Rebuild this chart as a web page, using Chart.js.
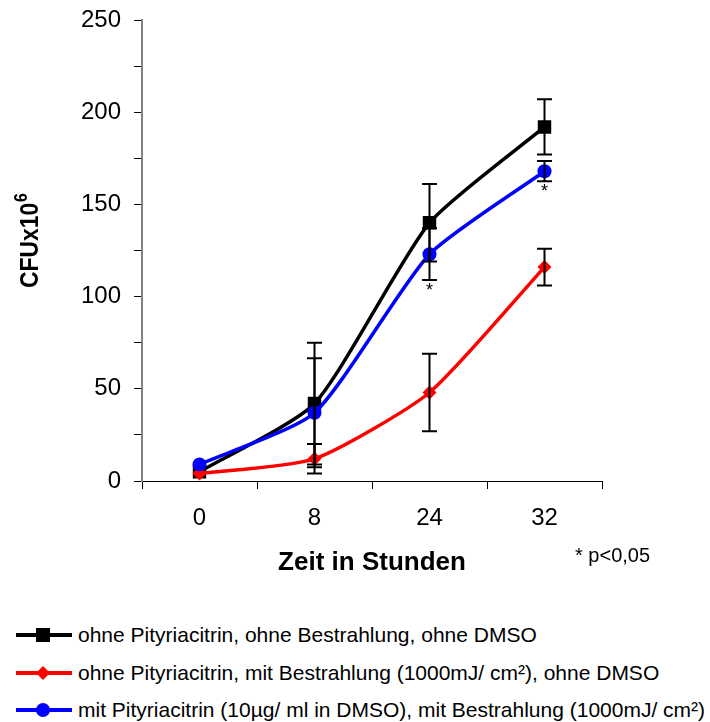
<!DOCTYPE html>
<html>
<head>
<meta charset="utf-8">
<script src="https://cdn.jsdelivr.net/npm/chart.js@4"></script>
<style>
  body { margin: 0; background: #fff; font-family: "Liberation Sans", Arial, sans-serif; }
  #wrap { position: relative; width: 710px; height: 722px; overflow: hidden; }
  #box { position: absolute; left: 0; top: 0; width: 710px; height: 600px; }
  .item { position: absolute; left: 0; display: flex; align-items: center; height: 30px;
          font-size: 21px; color: #000; white-space: nowrap; }
  .item canvas { margin-left: 16px; margin-right: 6px; }
</style>
</head>
<body>
<div id="wrap">
  <div id="box"><canvas id="chart"></canvas></div>
</div>
<script>
const hours = ['0', '8', '24', '32'];

const controlLabel = 'ohne Pityriacitrin, ohne Bestrahlung, ohne DMSO';
const controlVals = [5, 42, 140, 192];
const controlErr = [0, 33, 21, 15];

const irradLabel = 'ohne Pityriacitrin, mit Bestrahlung (1000mJ/ cm²), ohne DMSO';
const irradVals = [4, 12, 48, 116];
const irradErr = [0, 8, 21, 10];

const pityLabel = 'mit Pityriacitrin (10µg/ ml in DMSO), mit Bestrahlung (1000mJ/ cm²)';
const pityVals = [9, 37, 123, 168];
const pityErr = [0, 29.5, 14, 5.5];

// which points get a significance star (index into hours)
const starIdx = [2, 3];

const FONT = '"Liberation Sans", Arial';

const extras = {
  id: 'extras',
  afterDatasetsDraw(chart) {
    const ctx = chart.ctx;
    const y = chart.scales.y;
    ctx.save();
    ctx.strokeStyle = '#000';
    ctx.lineWidth = 2;
    chart.data.datasets.forEach((ds, di) => {
      const meta = chart.getDatasetMeta(di);
      meta.data.forEach((pt, i) => {
        const e = ds.err[i];
        if (!e) return;
        const top = y.getPixelForValue(ds.data[i] + e);
        const bot = y.getPixelForValue(ds.data[i] - e);
        ctx.beginPath();
        ctx.moveTo(pt.x, top); ctx.lineTo(pt.x, bot);
        ctx.moveTo(pt.x - 7.5, top); ctx.lineTo(pt.x + 7.5, top);
        ctx.moveTo(pt.x - 7.5, bot); ctx.lineTo(pt.x + 7.5, bot);
        ctx.stroke();
      });
    });
    // stars under the blue bars
    ctx.fillStyle = '#000';
    ctx.font = '18px ' + FONT;
    ctx.textAlign = 'center';
    ctx.textBaseline = 'middle';
    const meta = chart.getDatasetMeta(2);
    starIdx.forEach(i => {
      const bot = y.getPixelForValue(pityVals[i] - pityErr[i]);
      ctx.fillText('*', meta.data[i].x, bot + 11);
    });
    ctx.font = '20px ' + FONT;
    ctx.textAlign = 'left';
    ctx.fillText('* p<0,05', 575, 556);

    // y title with real superscript, rotated
    ctx.translate(38, 288);
    ctx.rotate(-Math.PI / 2);
    ctx.scale(0.88, 1);
    ctx.textBaseline = 'alphabetic';
    ctx.font = 'bold 26px ' + FONT;
    ctx.fillText('CFUx10', 0, 0);
    const w = ctx.measureText('CFUx10').width;
    ctx.font = 'bold 18px ' + FONT;
    ctx.fillText('6', w + 1, -11);
    ctx.restore();
  }
};

const datasets = [
  { label: controlLabel, data: controlVals, err: controlErr, borderColor: '#000', backgroundColor: '#000',
    pointStyle: 'rect', pointRadius: 9.5, order: 2 },
  { label: irradLabel, data: irradVals, err: irradErr, borderColor: '#ff0000', backgroundColor: '#ff0000',
    pointStyle: 'rectRot', pointRadius: 7, order: 1 },
  { label: pityLabel, data: pityVals, err: pityErr, borderColor: '#0000ff', backgroundColor: '#0000ff',
    pointStyle: 'circle', pointRadius: 7, order: 0 }
];
datasets.forEach(d => { d.borderWidth = 3.5; d.tension = 0.2; d.pointBorderWidth = 0; });

new Chart(document.getElementById('chart'), {
  type: 'line',
  data: { labels: hours, datasets },
  options: {
    responsive: true,
    maintainAspectRatio: false,
    animation: false,
    layout: { padding: { top: 20, right: 108, left: 0, bottom: 0 } },
    plugins: { legend: { display: false }, tooltip: { enabled: false } },
    scales: {
      x: {
        offset: true,
        grid: { offset: true, drawOnChartArea: false, tickLength: 8, color: '#000' },
        border: { color: '#000', width: 1 },
        ticks: { color: '#000', padding: 15, font: { size: 24, family: FONT } },
        title: { display: true, text: 'Zeit in Stunden', color: '#000', padding: { bottom: 22 },
          font: { size: 26, weight: 'bold', family: FONT } },
        afterFit(s) { s.height = 119; }
      },
      y: {
        min: 0, max: 250,
        ticks: { stepSize: 25, color: '#000', padding: 13,
          font: { size: 24, family: FONT },
          callback: v => (v % 50 === 0 ? v : '') },
        grid: { drawOnChartArea: false, tickLength: 8, color: '#000' },
        border: { color: '#808080', width: 2 },
        afterFit(s) { s.width = 142; s.paddingTop = 0; s.paddingBottom = 0; }
      }
    }
  },
  plugins: [extras]
});

// legend below the chart, line + marker like the original
const wrap = document.getElementById('wrap');
datasets.forEach((d, k) => {
  const row = document.createElement('div');
  row.className = 'item';
  row.style.top = (635 + k * 37.5 - 15) + 'px';
  const c = document.createElement('canvas');
  c.width = 56; c.height = 20;
  const g = c.getContext('2d');
  g.strokeStyle = d.borderColor; g.fillStyle = d.borderColor; g.lineWidth = 4;
  g.beginPath(); g.moveTo(0, 10); g.lineTo(56, 10); g.stroke();
  g.beginPath();
  if (d.pointStyle === 'rect') g.rect(20, 3, 14, 14);
  else if (d.pointStyle === 'rectRot') { g.moveTo(27, 3); g.lineTo(34, 10); g.lineTo(27, 17); g.lineTo(20, 10); g.closePath(); }
  else g.arc(27, 10, 7, 0, Math.PI * 2);
  g.fill();
  row.appendChild(c);
  const t = document.createElement('span');
  t.textContent = d.label;
  row.appendChild(t);
  wrap.appendChild(row);
});
</script>
</body>
</html>
